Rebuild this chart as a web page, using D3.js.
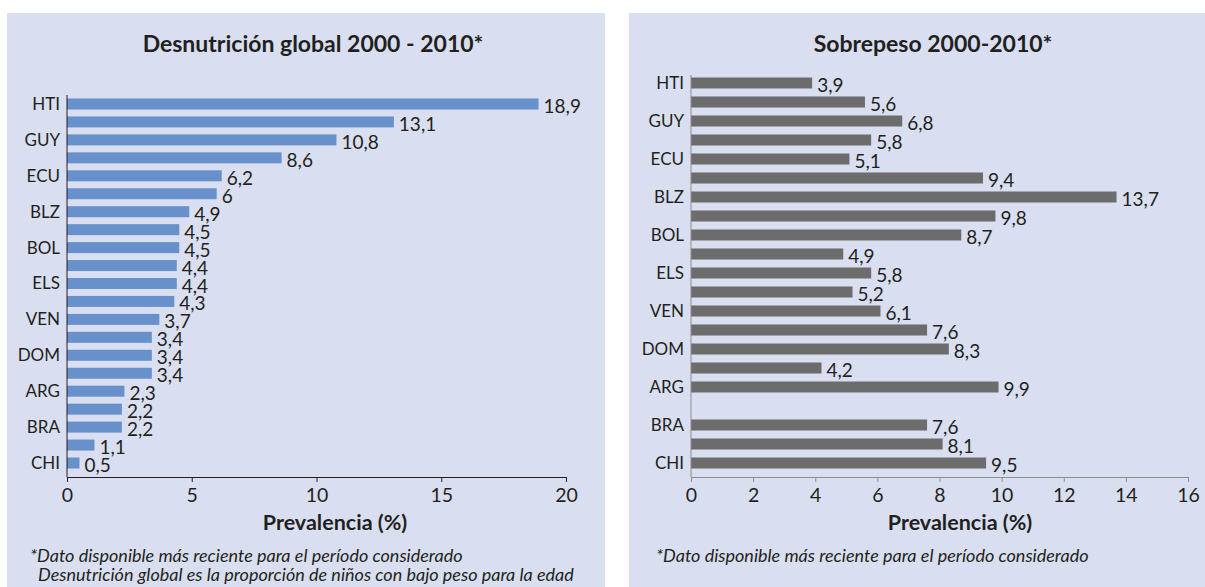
<!DOCTYPE html>
<html>
<head>
<meta charset="utf-8">
<script src="https://cdnjs.cloudflare.com/ajax/libs/d3/7.8.5/d3.min.js"></script>
<style>
  body { margin: 0; background: #fff; }
  svg { display: block; font-family: Lato, "Open Sans", sans-serif; }
</style>
</head>
<body>
<svg id="chart" width="1205" height="587"></svg>
<script>
// category labels (only every second one is printed in the original)
var countryLabels = ["HTI", "", "GUY", "", "ECU", "", "BLZ", "", "BOL", "", "ELS", "",
    "VEN", "", "DOM", "", "ARG", "", "BRA", "", "CHI"];
var desnutricion = [18.9, 13.1, 10.8, 8.6, 6.2, 6, 4.9, 4.5, 4.5, 4.4, 4.4, 4.3,
    3.7, 3.4, 3.4, 3.4, 2.3, 2.2, 2.2, 1.1, 0.5];
var sobrepeso = [3.9, 5.6, 6.8, 5.8, 5.1, 9.4, 13.7, 9.8, 8.7, 4.9, 5.8, 5.2,
    6.1, 7.6, 8.3, 4.2, 9.9, null, 7.6, 8.1, 9.5];
var leftTicks = [0, 5, 10, 15, 20];
var rightTicks = [0, 2, 4, 6, 8, 10, 12, 14, 16];

var svg = d3.select("#chart");
var fmt = function (v) { return String(v).replace(".", ","); };

function drawPanel(o) {
    var g = svg.append("g");

    g.append("rect")
        .attr("x", o.px).attr("y", 13)
        .attr("width", o.pw).attr("height", 580)
        .attr("fill", "#d9dff0");

    g.append("text")
        .attr("x", o.titleX).attr("y", 52)
        .attr("text-anchor", "middle")
        .attr("font-size", 23).attr("font-weight", "bold")
        .attr("fill", "#231f20")
        .text(o.title);

    var idx = o.values.map(function (d, i) { return i; });

    var x = d3.scaleLinear().domain(o.domain).range([o.x0, o.x1]);
    var y = d3.scalePoint().domain(idx).range([o.yTop, o.yBot]);
    var bh = 11;

    // x axis
    var xa = g.append("g")
        .attr("transform", "translate(0," + o.axisY + ")")
        .call(d3.axisBottom(x).tickValues(o.ticks).tickSize(5).tickPadding(6));
    xa.select(".domain").attr("stroke", o.axisColor);
    xa.selectAll(".tick line").attr("stroke", o.axisColor);
    xa.selectAll("text").attr("font-size", 19.5).attr("fill", "#231f20")
        .attr("font-family", "Lato, sans-serif");

    g.append("text")
        .attr("x", o.labelX).attr("y", 530)
        .attr("text-anchor", "middle")
        .attr("font-size", 21.5).attr("font-weight", "bold")
        .attr("fill", "#231f20")
        .text("Prevalencia (%)");

    // bars
    var data = o.values.map(function (v, i) { return { i: i, v: v }; })
        .filter(function (d) { return d.v != null; });

    g.selectAll(".bar")
        .data(data)
        .enter()
        .append("rect")
        .attr("class", "bar")
        .attr("x", x(0))
        .attr("y", function (d) { return y(d.i) - bh / 2; })
        .attr("width", function (d) { return x(d.v) - x(0); })
        .attr("height", bh)
        .attr("fill", o.color);

    g.selectAll(".val")
        .data(data)
        .enter()
        .append("text")
        .attr("class", "val")
        .attr("x", function (d) { return x(d.v) + 5; })
        .attr("y", function (d) { return y(d.i) + 9; })
        .attr("font-size", 19)
        .attr("fill", "#231f20")
        .text(function (d) { return fmt(d.v); });

    // y axis
    var ya = g.append("g")
        .attr("transform", "translate(" + o.x0 + ",0)")
        .call(d3.axisLeft(y).tickSize(0).tickPadding(7)
            .tickFormat(function (i) { return countryLabels[i]; }));
    ya.select(".domain").attr("d", "M0," + o.axisTop + "V" + o.axisY)
        .attr("stroke", o.axisColor);
    ya.selectAll("text").attr("font-size", 17).attr("fill", "#231f20")
        .attr("font-family", "Lato, sans-serif");

    o.notes.forEach(function (n, k) {
        g.append("text")
            .attr("x", n.x).attr("y", 562 + k * 19)
            .attr("font-size", 18).attr("font-style", "italic")
            .attr("fill", "#231f20")
            .text(n.t);
    });
}

drawPanel({
    px: 7, pw: 598, title: "Desnutrición global 2000 - 2010*", titleX: 313,
    values: desnutricion, domain: [0, 20], ticks: leftTicks,
    x0: 67, x1: 566, yTop: 104, yBot: 463, axisY: 477, axisTop: 95,
    color: "#6890ca", axisColor: "#231f20", labelX: 335,
    notes: [
        { x: 30, t: "*Dato disponible más reciente para el período considerado" },
        { x: 38, t: "Desnutrición global es la proporción de niños con bajo peso para la edad" }
    ]
});

drawPanel({
    px: 629, pw: 580, title: "Sobrepeso 2000-2010*", titleX: 933,
    values: sobrepeso, domain: [0, 16], ticks: rightTicks,
    x0: 691, x1: 1188, yTop: 83, yBot: 463, axisY: 477, axisTop: 75,
    color: "#6c6c6c", axisColor: "#8c8c8c", labelX: 960,
    notes: [
        { x: 656, t: "*Dato disponible más reciente para el período considerado" }
    ]
});
</script>
</body>
</html>
